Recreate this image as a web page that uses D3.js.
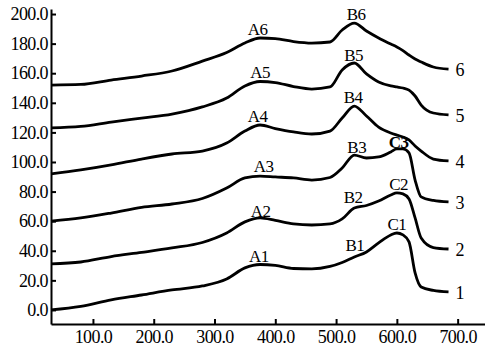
<!DOCTYPE html>
<html>
<head>
<meta charset="utf-8">
<script src="https://cdn.jsdelivr.net/npm/d3@7"></script>
<style>
  body { margin: 0; background: #fff; }
  svg text { font-family: "Liberation Serif", "DejaVu Serif", serif; fill: #000; }
</style>
</head>
<body>
<script>
var width = 485, height = 350;

// wavelength samples (shared by all curves)
var xs = [31, 80, 130, 180, 230, 280, 320, 350, 375, 400, 430, 460, 490, 510, 530, 550, 570, 590, 600, 610, 620, 630, 640, 660, 685];

var s1 = [0, 2.4, 6.8, 10.1, 13.5, 16.2, 20.9, 28.4, 30.7, 30.1, 28, 27.7, 29.4, 32.1, 35.8, 39.2, 45.3, 50.7, 52, 50.7, 46, 25, 15.5, 13.2, 12.2];
var s2 = [31.1, 32.4, 36.1, 38.9, 41.9, 45.6, 52, 59.5, 62.2, 60.5, 58.1, 57.4, 58.1, 61.5, 68.9, 70.6, 73.6, 77.7, 79.1, 78.4, 75, 62.2, 48.6, 42.2, 41.2];
var s3 = [60.1, 62.2, 65.5, 69.3, 71.6, 75.3, 82.4, 89.2, 90.5, 89.9, 89.2, 87.8, 89.5, 95.9, 104.7, 102.7, 103.4, 106.8, 108.8, 108.8, 106.1, 87.8, 76.4, 74, 73];
var s4 = [91.9, 94.6, 98, 102, 105.4, 107.4, 112.8, 120.9, 125, 122.6, 120.3, 118.9, 120.9, 129.7, 137.8, 131.1, 123.6, 119.6, 118.2, 116.9, 114.9, 110.8, 107.4, 102, 100.7];
var s5 = [123, 124, 127, 129.7, 132.4, 137.2, 143.2, 151.4, 154.4, 153.7, 151, 149.3, 150.7, 162.2, 166.9, 159.5, 154.1, 151.4, 150.7, 150, 148.6, 144.6, 138.5, 133.1, 131.8];
var s6 = [152, 152.4, 155.4, 158.1, 161.5, 168.2, 174, 180.4, 183.8, 183.4, 181.4, 180.4, 181.1, 189.2, 193.9, 188.5, 183.8, 179.7, 177.7, 175.3, 172.3, 169.6, 167.6, 164.2, 162.8];

var seriesNames = ["1", "2", "3", "4", "5", "6"];
var series = [s1, s2, s3, s4, s5, s6];

// peak labels: [text, x, y]
var peakLabels = [
  ["A6", 371, 185.8], ["B6", 533, 196],
  ["A5", 375, 156.8], ["B5", 529, 168.2],
  ["A4", 371, 127], ["B4", 528, 139.9],
  ["A3", 381, 93.2], ["B3", 534, 106.1], ["C3", 603, 109.5],
  ["A2", 376, 62.8], ["B2", 528, 72.3], ["C2", 603, 81.1],
  ["A1", 373, 32.4], ["B1", 531, 39.9], ["C1", 600, 54.1]
];

var xTicks = [100, 200, 300, 400, 500, 600, 700];
var yTicks = [0, 20, 40, 60, 80, 100, 120, 140, 160, 180, 200];

var svg = d3.select("body").append("svg")
    .attr("width", width)
    .attr("height", height);

var x = d3.scaleLinear().domain([31, 745]).range([51, 485]);
var y = d3.scaleLinear().domain([-9.5, 203.4]).range([324, 9]);

var fmt = d3.format(".1f");

var xAxis = svg.append("g")
    .attr("transform", "translate(0," + y(-9.5) + ")")
    .call(d3.axisBottom(x).tickValues(xTicks).tickFormat(fmt).tickSizeInner(-5).tickSizeOuter(0).tickPadding(4));

var yAxis = svg.append("g")
    .attr("transform", "translate(" + x(31) + ",0)")
    .call(d3.axisLeft(y).tickValues(yTicks).tickFormat(fmt).tickSizeInner(-5).tickSizeOuter(0).tickPadding(3));

[xAxis, yAxis].forEach(function(g) {
  g.select(".domain").attr("stroke", "#000").attr("stroke-width", 2);
  g.selectAll(".tick line").attr("stroke", "#000").attr("stroke-width", 2);
  g.selectAll(".tick text")
    .style("font-family", "'Liberation Serif', serif")
    .style("font-size", "18px")
    .style("letter-spacing", "-0.6px")
    .attr("fill", "#000");
});
yAxis.selectAll(".tick text").attr("x", -3);
xAxis.selectAll(".tick text").attr("y", 6);

var line = d3.line()
    .x(function(d, i) { return x(xs[i]); })
    .y(function(d) { return y(d); })
    .curve(d3.curveMonotoneX);

svg.selectAll(".curve")
    .data(series)
    .enter().append("path")
    .attr("class", "curve")
    .attr("d", line)
    .attr("fill", "none")
    .attr("stroke", "#000")
    .attr("stroke-width", 2.8)
    .attr("stroke-linejoin", "round");

svg.selectAll(".end-label")
    .data(series)
    .enter().append("text")
    .attr("class", "end-label")
    .attr("x", function(d) { return x(xs[xs.length - 1]) + 7; })
    .attr("y", function(d) { return y(d[d.length - 1]) + 7; })
    .style("font-size", "18px")
    .text(function(d, i) { return seriesNames[i]; });

svg.selectAll(".peak-label")
    .data(peakLabels)
    .enter().append("text")
    .attr("class", "peak-label")
    .attr("x", function(d) { return x(d[1]); })
    .attr("y", function(d) { return y(d[2]); })
    .attr("text-anchor", "middle")
    .style("font-size", "17px")
    .style("letter-spacing", "-0.5px")
    .style("font-weight", function(d) { return d[0] === "C3" ? "bold" : "normal"; })
    .text(function(d) { return d[0]; });
</script>
</body>
</html>
